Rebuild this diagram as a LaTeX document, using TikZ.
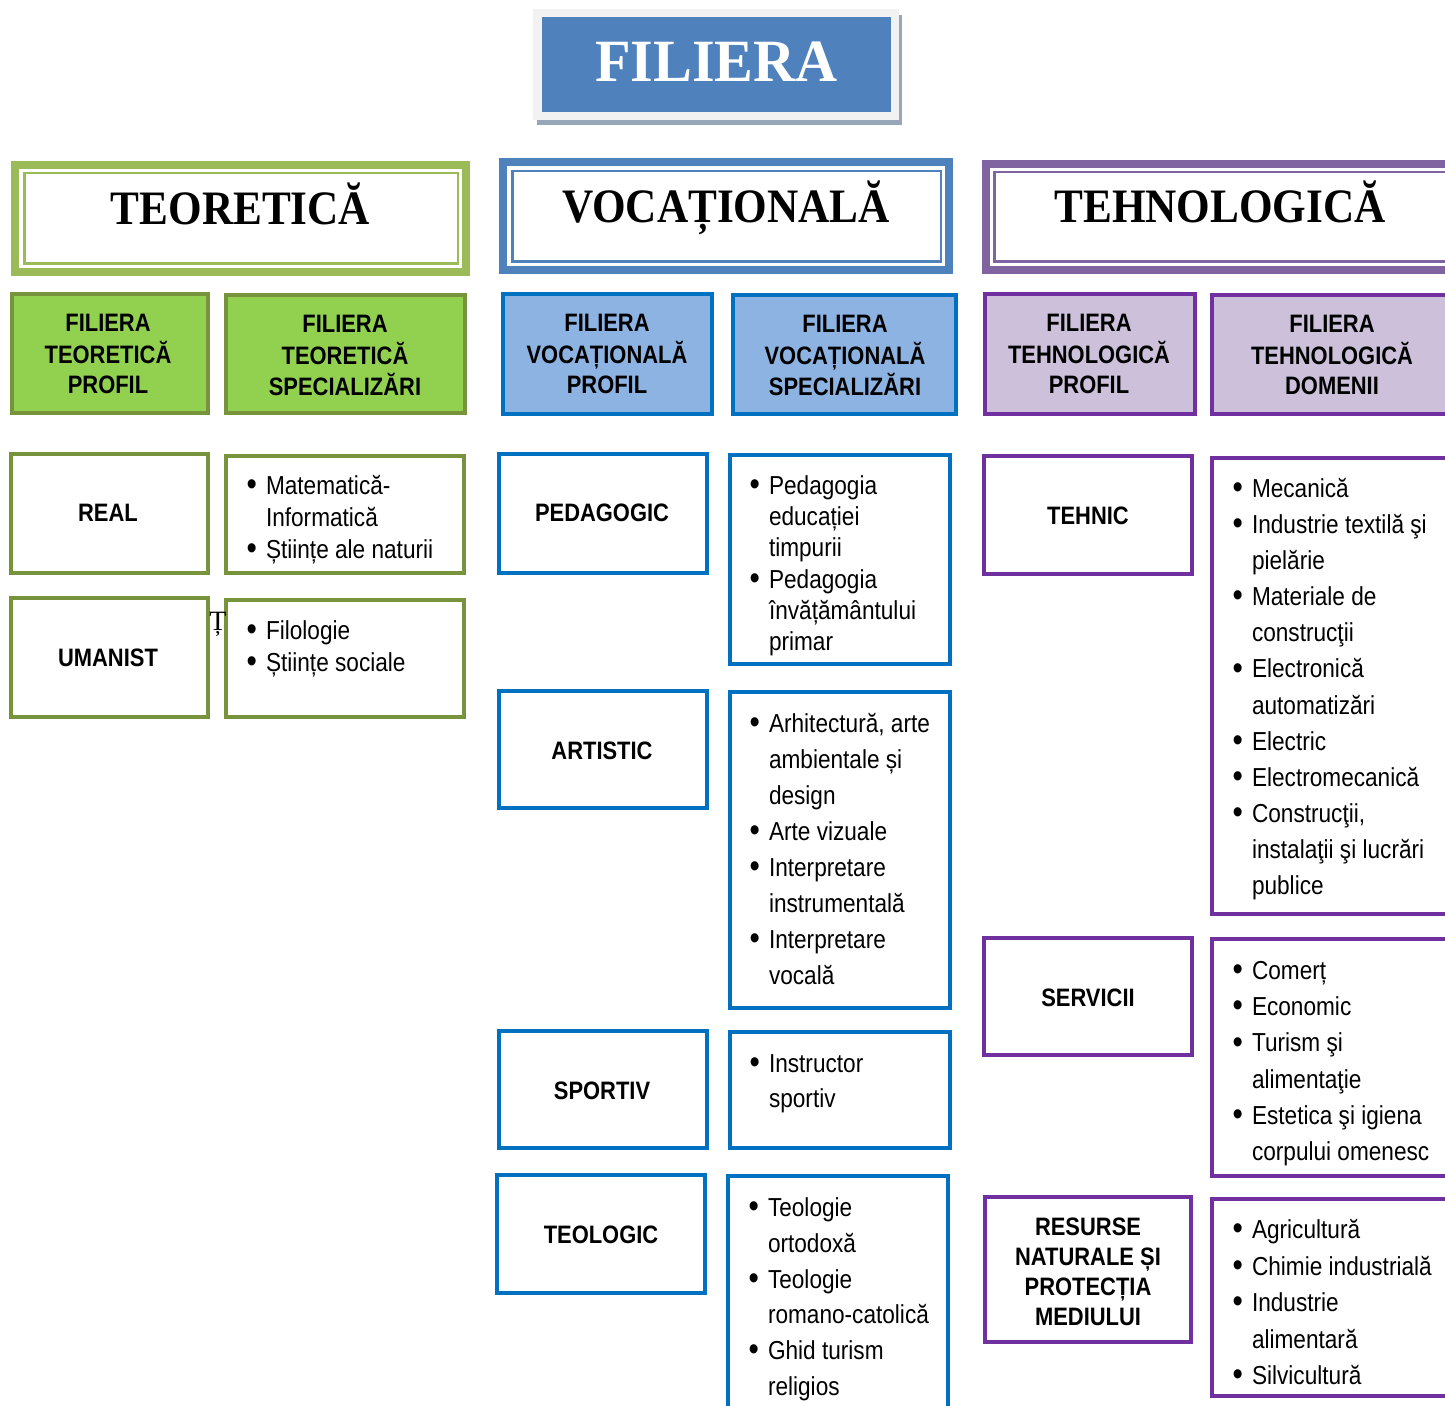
\documentclass[tikz,border=0pt]{standalone}
\usepackage{fontspec}
\setmainfont{Liberation Serif}
\newfontfamily\nar[FakeStretch=0.87]{Liberation Sans}
\newfontfamily\tnr[FakeStretch=0.9]{Liberation Serif}
\newfontfamily\ttl[FakeStretch=0.97]{Liberation Serif}
\definecolor{tgreen}{HTML}{9BBB59}
\definecolor{gfill}{HTML}{92D050}
\definecolor{gline}{HTML}{77933C}
\definecolor{vblue}{HTML}{4F81BD}
\definecolor{bfill}{HTML}{8DB3E2}
\definecolor{bline}{HTML}{0070C0}
\definecolor{tpurp}{HTML}{8064A2}
\definecolor{pfill}{HTML}{CCC0DA}
\definecolor{pline}{HTML}{7030A0}
\definecolor{frameg}{HTML}{F2F2F2}
\definecolor{shadowc}{HTML}{98A6BA}
\newcommand\bx[7]{\node[inner sep=0pt, outer sep=0pt, line width={#6*0.5pt}, minimum width={(#4-#2-#6)*0.5pt}, minimum height={(#5-#3-#6)*0.5pt}, #7] (#1) at ({(#2+#4)/2},{(#3+#5)/2}) {};}
\newcommand\bu{\makebox[0pt][r]{\raisebox{-0.6pt}{\scalebox{1.3}{•}}\hspace{4.5pt}}}
\newcommand\lst[2]{\nar\fontsize{13}{#1}\selectfont\begin{tabular}[t]{@{}l@{}}#2\end{tabular}}
\newcommand\lbl[1]{\nar\bfseries\fontsize{12.6}{15}\selectfont\begin{tabular}[t]{@{}c@{}}#1\end{tabular}}
\begin{document}
\begin{tikzpicture}[x=0.5pt,y=-0.5pt, txt/.style={inner sep=0pt, outer sep=0pt}]
\useasboundingbox (0,0) rectangle (1445,1406);
\clip (0,0) rectangle (1445,1406);
% title
\bx{fshadow}{537}{15}{902}{125}{0}{fill=shadowc}
\bx{fframe}{533}{9}{899}{120}{0}{fill=frameg}
\bx{fblue}{542}{17}{891}{112}{0}{fill=vblue}
\node[txt, anchor=base, text=white] (ftitle) at (716.5,82) {\ttl\bfseries\fontsize{30}{36}\selectfont FILIERA};
% headers
\bx{teorH}{11}{161}{470}{276}{8}{draw=tgreen, fill=white}
\bx{teorHi}{23}{172}{459}{265}{2.5}{draw=tgreen}
\node[txt, anchor=base] (teorT) at (240.5,225) {\tnr\bfseries\fontsize{24}{28}\selectfont TEORETICĂ};
\bx{vocH}{499}{158}{953}{274}{8}{draw=vblue, fill=white}
\bx{vocHi}{511}{170}{942}{263}{2.5}{draw=vblue}
\node[txt, anchor=base] (vocT) at (726,223) {\tnr\bfseries\fontsize{24}{28}\selectfont VOCAȚIONALĂ};
\bx{tehH}{982}{160}{1470}{274}{8}{draw=tpurp, fill=white}
\bx{tehHi}{993}{171}{1460}{263}{2.5}{draw=tpurp}
\node[txt, anchor=base] (tehT) at (1220,223) {\tnr\bfseries\fontsize{24}{28}\selectfont TEHNOLOGICĂ};
% second row
\bx{tp}{10}{292}{210}{415}{4}{draw=gline, fill=gfill}
\node[txt, anchor=base] (tpT) at (108,332) {\lbl{FILIERA\\TEORETICĂ\\PROFIL}};
\bx{ts}{224}{293}{467}{415}{4}{draw=gline, fill=gfill}
\node[txt, anchor=base] (tsT) at (345,333) {\lbl{FILIERA\\TEORETICĂ\\SPECIALIZĂRI}};
\bx{vp}{501}{292}{714}{416}{4}{draw=bline, fill=bfill}
\node[txt, anchor=base] (vpT) at (607,332) {\lbl{FILIERA\\VOCAȚIONALĂ\\PROFIL}};
\bx{vs}{731}{293}{958}{416}{4}{draw=bline, fill=bfill}
\node[txt, anchor=base] (vsT) at (845,333) {\lbl{FILIERA\\VOCAȚIONALĂ\\SPECIALIZĂRI}};
\bx{hp}{983}{292}{1197}{416}{4}{draw=pline, fill=pfill}
\node[txt, anchor=base] (hpT) at (1089,332) {\lbl{FILIERA\\TEHNOLOGICĂ\\PROFIL}};
\bx{hd}{1210}{293}{1470}{416}{4}{draw=pline, fill=pfill}
\node[txt, anchor=base] (hdT) at (1332,333) {\lbl{FILIERA\\TEHNOLOGICĂ\\DOMENII}};
% teoretica column
\bx{real}{9}{452}{210}{575}{4}{draw=gline}
\node[txt, anchor=base] (realT) at (108,522) {\lbl{REAL}};
\bx{realL}{224}{454}{466}{575}{4}{draw=gline}
\node[txt, anchor=base west] (realLT) at (266,494.5) {\lst{16}{\bu Matematică-\\ Informatică\\ \bu Științe ale naturii}};
\bx{uman}{9}{596}{210}{719}{4}{draw=gline}
\node[txt, anchor=base] (umanT) at (108,666) {\lbl{UMANIST}};
\bx{umanL}{224}{598}{466}{719}{4}{draw=gline}
\node[txt, anchor=base west] (umanLT) at (266,639.5) {\lst{16}{\bu Filologie\\ \bu Științe sociale}};
\node[txt, anchor=base] (stray) at (218,630) {\fontsize{14}{16}\selectfont Ț};
% vocationala column
\bx{ped}{497}{452}{709}{575}{4}{draw=bline}
\node[txt, anchor=base] (pedT) at (602,522) {\lbl{PEDAGOGIC}};
\bx{pedL}{728}{453}{952}{666}{4}{draw=bline}
\node[txt, anchor=base west] (pedLT) at (769,494.5) {\lst{15.6}{\bu Pedagogia\\ educației\\ timpurii\\ \bu Pedagogia\\ învățământului\\ primar}};
\bx{art}{497}{689}{709}{810}{4}{draw=bline}
\node[txt, anchor=base] (artT) at (602,759) {\lbl{ARTISTIC}};
\bx{artL}{728}{690}{952}{1010}{4}{draw=bline}
\node[txt, anchor=base west] (artLT) at (769,732.5) {\lst{18}{\bu Arhitectură, arte\\ ambientale și\\ design\\ \bu Arte vizuale\\ \bu Interpretare\\ instrumentală\\ \bu Interpretare\\ vocală}};
\bx{spo}{497}{1029}{709}{1150}{4}{draw=bline}
\node[txt, anchor=base] (spoT) at (602,1099) {\lbl{SPORTIV}};
\bx{spoL}{728}{1030}{952}{1150}{4}{draw=bline}
\node[txt, anchor=base west] (spoLT) at (769,1072.5) {\lst{17.5}{\bu Instructor\\ sportiv}};
\bx{teo}{495}{1173}{707}{1295}{4}{draw=bline}
\node[txt, anchor=base] (teoT) at (601,1243) {\lbl{TEOLOGIC}};
\bx{teoL}{726}{1174}{950}{1430}{4}{draw=bline}
\node[txt, anchor=base west] (teoLT) at (768,1216.5) {\lst{17.9}{\bu Teologie\\ ortodoxă\\ \bu Teologie\\ romano-catolică\\ \bu Ghid turism\\ religios}};
% tehnologica column
\bx{teh}{982}{454}{1194}{576}{4}{draw=pline}
\node[txt, anchor=base] (tehnT) at (1088,524) {\lbl{TEHNIC}};
\bx{tehL}{1210}{456}{1470}{916}{4}{draw=pline}
\node[txt, anchor=base west] (tehLT) at (1252,497.5) {\lst{18.05}{\bu Mecanică\\ \bu Industrie textilă şi\\ pielărie\\ \bu Materiale de\\ construcţii\\ \bu Electronică\\ automatizări\\ \bu Electric\\ \bu Electromecanică\\ \bu Construcţii,\\ instalaţii şi lucrări\\ publice}};
\bx{serv}{982}{936}{1194}{1057}{4}{draw=pline}
\node[txt, anchor=base] (servT) at (1088,1006) {\lbl{SERVICII}};
\bx{servL}{1210}{937}{1470}{1178}{4}{draw=pline}
\node[txt, anchor=base west] (servLT) at (1252,979.5) {\lst{18.1}{\bu Comerț\\ \bu Economic\\ \bu Turism şi\\ alimentaţie\\ \bu Estetica şi igiena\\ corpului omenesc}};
\bx{res}{983}{1195}{1193}{1344}{4}{draw=pline}
\node[txt, anchor=base] (resT) at (1088,1235) {\lbl{RESURSE\\NATURALE ȘI\\PROTECȚIA\\MEDIULUI}};
\bx{resL}{1210}{1197}{1470}{1398}{4}{draw=pline}
\node[txt, anchor=base west] (resLT) at (1252,1238.5) {\lst{18.25}{\bu Agricultură\\ \bu Chimie industrială\\ \bu Industrie\\ alimentară\\ \bu Silvicultură}};
\end{tikzpicture}
\end{document}
